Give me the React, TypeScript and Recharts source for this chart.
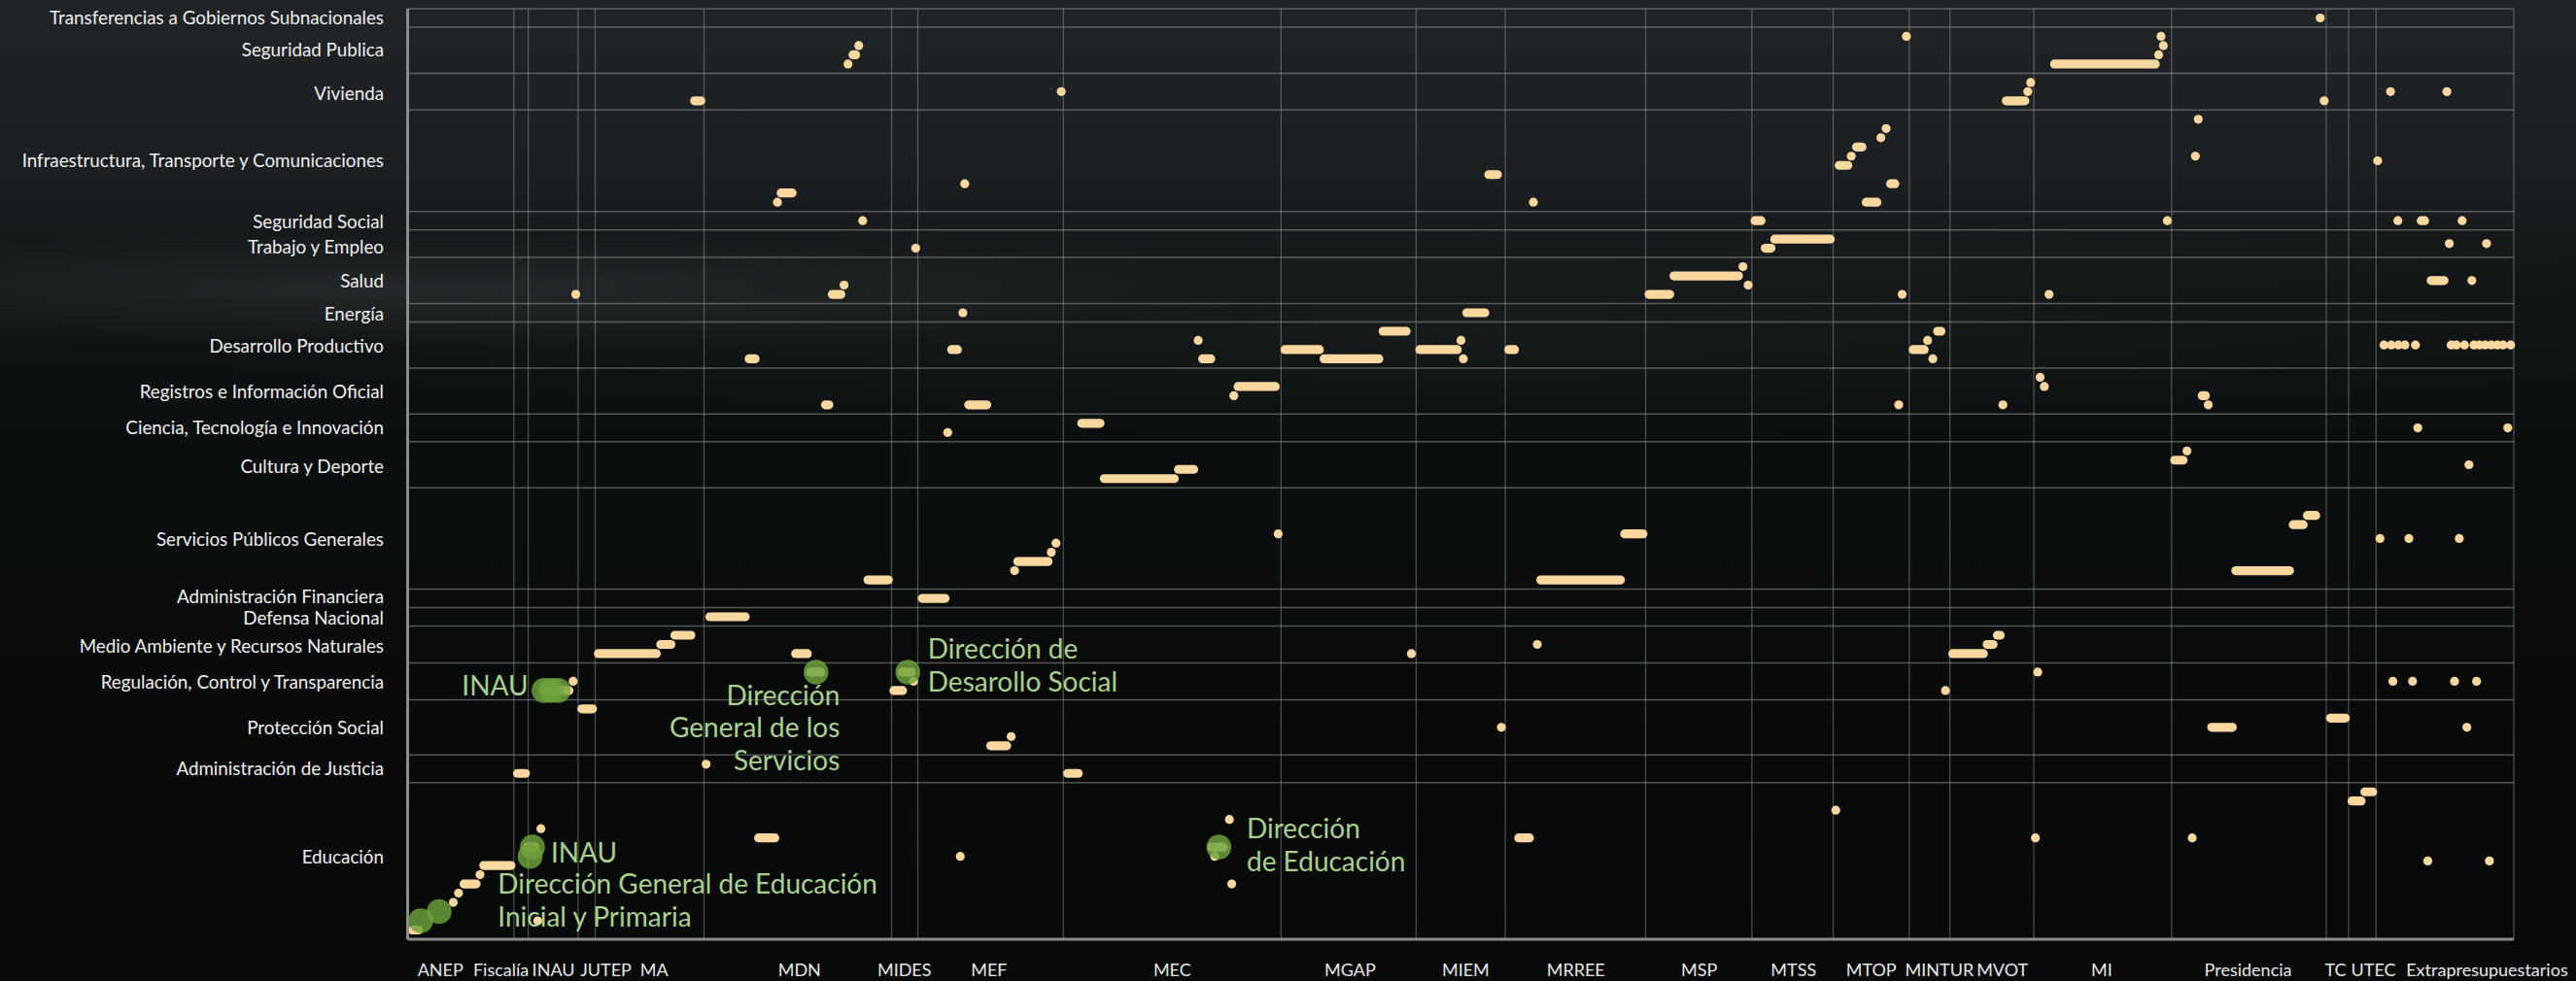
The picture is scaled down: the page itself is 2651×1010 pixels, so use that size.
import React from 'react';
import { ScatterChart, Scatter, XAxis, YAxis, ReferenceLine } from 'recharts';

const BEIGE = '#f9d79f';
const GREEN = '#6fa33c';
const GREEN_TEXT = '#a9d18e';
const GRID = '#9a9d9e';
const AXIS = '#8c8c8c';
const FONT = "Lato, 'Open Sans', sans-serif";

// Organisations (x axis)
const orgLabels = ['ANEP', 'Fiscalía', 'INAU', 'JUTEP', 'MA', 'MDN', 'MIDES', 'MEF', 'MEC', 'MGAP', 'MIEM', 'MRREE', 'MSP', 'MTSS', 'MTOP', 'MINTUR', 'MVOT', 'MI', 'Presidencia', 'TC', 'UTEC', 'Extrapresupuestarios'];
const orgLabelPos = [12.5, 35.6, 55.6, 75.6, 94, 149.4, 189.4, 221.7, 291.5, 359.3, 403.4, 445.4, 492.4, 528.4, 558, 584, 608, 645.9, 701.7, 735, 749.5, 792.8];
const orgBounds = [0, 40.5, 46, 65, 71.5, 113, 184.5, 194.5, 250, 333, 384.5, 418.5, 472, 512.5, 543.5, 572.5, 588, 620, 672.5, 731.5, 740, 750.5, 803];

// Areas (y axis, counted from the top)
const areaLabels = ['Transferencias a Gobiernos Subnacionales', 'Seguridad Publica', 'Vivienda', 'Infraestructura, Transporte y Comunicaciones', 'Seguridad Social', 'Trabajo y Empleo', 'Salud', 'Energía', 'Desarrollo Productivo', 'Registros e Información Oficial', 'Ciencia, Tecnología e Innovación', 'Cultura y Deporte', 'Servicios Públicos Generales', 'Administración Financiera', 'Defensa Nacional', 'Medio Ambiente y Recursos Naturales', 'Regulación, Control y Transparencia', 'Protección Social', 'Administración de Justicia', 'Educación'];
const areaLabelPos = [0.9, 4.4, 9.1, 16.4, 23, 25.8, 29.5, 33, 36.5, 41.5, 45.4, 49.6, 57.5, 63.7, 66, 69.1, 73, 78, 82.4, 92];
const areaBounds = [0, 2, 7, 11, 22, 24, 27, 32, 34, 39, 44, 47, 52, 63, 65, 67, 71, 75, 81, 84, 101];

// Single programmes [x, y]
const programDots: [number, number][] = [
  [729.2, 1],
  [172.0, 4], [167.9, 6], [571.4, 3], [668.5, 3], [669.4, 4], [667.6, 5],
  [249.2, 9], [618.8, 8], [617.7, 9], [730.7, 10], [756.0, 9], [777.5, 9],
  [212.4, 19], [141.0, 21], [429.2, 21], [563.7, 13], [561.7, 14], [550.4, 16], [682.7, 12], [681.6, 16], [751.1, 16.5],
  [173.5, 23], [670.9, 23], [758.8, 23], [783.3, 23],
  [193.7, 26], [778.4, 25.5], [792.6, 25.5],
  [64.1, 31], [166.4, 30], [569.8, 31], [625.8, 31], [787.0, 29.5], [509.1, 28], [511.1, 30],
  [211.7, 33],
  [301.4, 36], [401.6, 36], [402.5, 38], [579.5, 36], [581.5, 38],
  [753.5, 36.5], [756.3, 36.5], [759.0, 36.5], [761.5, 36.5], [765.5, 36.5], [779.1, 36.5], [781.1, 36.5], [784.2, 36.5],
  [787.8, 36.5], [789.9, 36.5], [792.1, 36.5], [794.4, 36.5], [796.7, 36.5], [798.9, 36.5], [801.8, 36.5],
  [315.0, 42], [622.4, 40], [624.0, 41], [568.5, 43], [608.2, 43], [686.5, 43],
  [205.9, 46], [766.4, 45.5], [800.7, 45.5],
  [678.4, 48], [785.9, 49.5],
  [231.4, 61], [245.4, 59], [247.2, 58], [331.9, 57], [752.0, 57.5], [763.0, 57.5], [782.2, 57.5],
  [382.7, 70], [430.7, 69],
  [63.1, 73], [192.9, 73], [586.3, 74], [621.5, 72], [756.9, 73], [764.4, 73], [780.4, 73], [788.8, 73],
  [230.1, 79], [417.0, 78], [785.1, 78],
  [113.8, 82],
  [544.5, 87], [620.6, 90], [680.4, 90], [770.2, 92.5], [793.7, 92.5], [313.3, 88], [314.2, 95], [307.7, 92],
  [210.7, 92], [50.8, 89], [49.6, 99], [17.4, 97], [19.4, 96], [27.6, 94],
];

// Runs of consecutive programmes [xStart, xEnd, y]
const programRuns: [number, number, number][] = [
  [169.8, 170.8, 5], [627.9, 666.3, 6],
  [109.4, 111.8, 10], [609.5, 616.6, 10],
  [142.4, 146.6, 20], [412.2, 415.5, 18], [552.4, 554.5, 15], [545.8, 549.1, 17], [565.4, 567.0, 19], [556.1, 560.2, 21],
  [513.7, 516.0, 23], [767.7, 769.0, 23],
  [517.6, 519.8, 26], [521.2, 542.4, 25],
  [161.9, 165.2, 31], [771.5, 776.4, 29.5], [482.8, 507.4, 29], [473.3, 481.2, 31],
  [403.8, 410.7, 33],
  [207.4, 209.6, 37], [130.2, 132.5, 38], [303.1, 306.2, 38], [334.5, 347.6, 37], [349.4, 370.3, 38], [371.9, 380.7, 35],
  [385.9, 400.2, 37], [419.8, 422.0, 37], [583.3, 584.6, 35], [574.0, 578.2, 37],
  [159.3, 160.6, 43], [213.9, 220.8, 43], [316.6, 330.8, 41], [684.2, 685.4, 42],
  [257.0, 264.0, 45],
  [293.9, 299.7, 50], [265.6, 292.3, 51], [673.7, 676.9, 49],
  [232.6, 244.2, 60], [175.5, 183.3, 62], [432.0, 462.4, 62], [464.0, 471.0, 57], [718.9, 722.7, 56], [724.3, 727.5, 55], [697.0, 717.5, 61],
  [196.2, 204.9, 64],
  [115.2, 128.7, 66],
  [101.9, 108.0, 68], [96.5, 100.4, 69], [72.7, 94.8, 70], [147.9, 152.4, 70], [589.1, 600.8, 70], [602.2, 604.5, 69], [606.1, 607.2, 68],
  [53.0, 61.5, 74], [153.5, 157.5, 72], [185.4, 188.7, 74], [188.5, 192.0, 72],
  [66.4, 70.5, 76], [222.3, 228.4, 80], [687.8, 695.7, 78], [733.1, 738.8, 77],
  [41.9, 44.9, 83], [251.6, 255.7, 83],
  [741.3, 744.8, 86], [746.2, 749.2, 85], [423.6, 427.7, 90], [133.8, 140.0, 90], [29.0, 39.4, 93], [21.5, 26.1, 95],
  [1.7, 4.1, 100], [306.5, 311.0, 91], [45.5, 48.5, 91],
];

// Highlighted programmes [x, y]
const highlighted: [number, number][] = [
  [52, 74], [54.7, 74], [57.4, 74], [47.6, 91], [46.7, 92], [5, 99], [12, 98], [155.7, 72], [190.7, 72], [309.3, 91],
];

const highlightLabels = [
  { x: 46.0, y: 73.4, lines: ['INAU'], anchor: 'end' },
  { x: 54.6, y: 91.5, lines: ['INAU'], anchor: 'start' },
  { x: 34.4, y: 94.9, lines: ['Dirección General de Educación', 'Inicial y Primaria'], anchor: 'start' },
  { x: 164.8, y: 74.4, lines: ['Dirección', 'General de los', 'Servicios'], anchor: 'end' },
  { x: 198.3, y: 69.4, lines: ['Dirección de', 'Desarollo Social'], anchor: 'start' },
  { x: 319.9, y: 88.9, lines: ['Dirección', 'de Educación'], anchor: 'start' },
];

const minorXTicks = Array.from({ length: 804 }, (_, i) => i);
const minorYTicks = Array.from({ length: 102 }, (_, i) => i);

const dotData = programDots.map(([x, y]) => ({ x, y }));
const greenData = highlighted.map(([x, y]) => ({ x, y }));

const XTick = (props: any) => {
  const { x, y, payload } = props;
  const i = orgLabelPos.indexOf(payload.value);
  return (
    <text x={x} y={y + 31} textAnchor="middle" dominantBaseline="central" fill="#e6e6e6" fontSize={18} fontFamily={FONT}>
      {orgLabels[i]}
    </text>
  );
};

const YTick = (props: any) => {
  const { x, y, payload } = props;
  const i = areaLabelPos.indexOf(payload.value);
  return (
    <text x={x - 24.5} y={y} textAnchor="end" dominantBaseline="central" fill="#eeeeee" fontSize={18.8} fontFamily={FONT}>
      {areaLabels[i]}
    </text>
  );
};

const DotShape = (p: any) => <circle cx={p.cx} cy={p.cy} r={4.6} fill={BEIGE} />;
const GreenShape = (p: any) => <circle cx={p.cx} cy={p.cy} r={12.8} fill={GREEN} fillOpacity={0.82} />;
const LabelShape = (p: any) => {
  const d = p.payload;
  return (
    <text x={p.cx} y={p.cy} textAnchor={d.anchor} fill={GREEN_TEXT} fontSize={28} fontFamily={FONT} dominantBaseline="central">
      {d.lines.map((l: string, k: number) => (
        <tspan key={k} x={p.cx} dy={k === 0 ? 0 : 33.7}>{l}</tspan>
      ))}
    </text>
  );
};

export default function App() {
  return (
    <div
      style={{
        position: 'absolute',
        left: 0,
        top: 0,
        width: 2651,
        height: 1010,
        overflow: 'hidden',
        background:
          'radial-gradient(ellipse 900px 60px at 420px 300px, rgba(90,95,98,0.25), rgba(0,0,0,0) 100%),' +
          'radial-gradient(ellipse 1400px 120px at 1500px 330px, rgba(60,64,66,0.18), rgba(0,0,0,0) 100%),' +
          'linear-gradient(180deg, #202426 0%, #1b1f21 18%, #111415 30%, #0c0f10 45%, #090b0b 70%, #080a0a 100%)',
      }}
    >
      <ScatterChart width={2651} height={1010} margin={{ top: 9, right: 64, bottom: 0, left: 19.5 }}>
        <XAxis
          dataKey="x"
          type="number"
          domain={[0, 803]}
          ticks={orgLabelPos}
          interval={0}
          tick={<XTick />}
          tickLine={false}
          axisLine={false}
          tickSize={0}
          tickMargin={0}
          height={43}
        />
        <XAxis
          xAxisId="minor"
          type="number"
          domain={[0, 803]}
          ticks={minorXTicks}
          interval={0}
          tick={false}
          mirror
          tickSize={6}
          tickLine={{ stroke: AXIS, strokeWidth: 1 }}
          axisLine={{ stroke: AXIS, strokeWidth: 3 }}
        />
        <YAxis
          dataKey="y"
          type="number"
          domain={[0, 101]}
          reversed
          ticks={areaLabelPos}
          interval={0}
          tick={<YTick />}
          tickLine={false}
          axisLine={false}
          tickSize={0}
          tickMargin={0}
          width={400}
        />
        <YAxis
          yAxisId="minor"
          type="number"
          domain={[0, 101]}
          reversed
          ticks={minorYTicks}
          interval={0}
          tick={false}
          mirror
          tickSize={7}
          tickLine={{ stroke: AXIS, strokeWidth: 2 }}
          axisLine={{ stroke: AXIS, strokeWidth: 3 }}
        />
        {areaBounds.map((v) => (
          <ReferenceLine key={'h' + v} y={v} stroke={GRID} strokeOpacity={0.5} strokeWidth={1.5} />
        ))}
        {orgBounds.map((v) => (
          <ReferenceLine key={'v' + v} x={v} stroke={GRID} strokeOpacity={0.45} strokeWidth={1.3} />
        ))}
        {programRuns.map(([a, b, y], i) => (
          <ReferenceLine
            key={'r' + i}
            segment={[{ x: a, y }, { x: b, y }]}
            stroke={BEIGE}
            strokeWidth={9.2}
            strokeLinecap="round"
          />
        ))}
        <Scatter data={dotData} shape={DotShape} isAnimationActive={false} />
        <Scatter data={greenData} shape={GreenShape} isAnimationActive={false} />
        <Scatter data={highlightLabels} shape={LabelShape} isAnimationActive={false} />
      </ScatterChart>
    </div>
  );
}
